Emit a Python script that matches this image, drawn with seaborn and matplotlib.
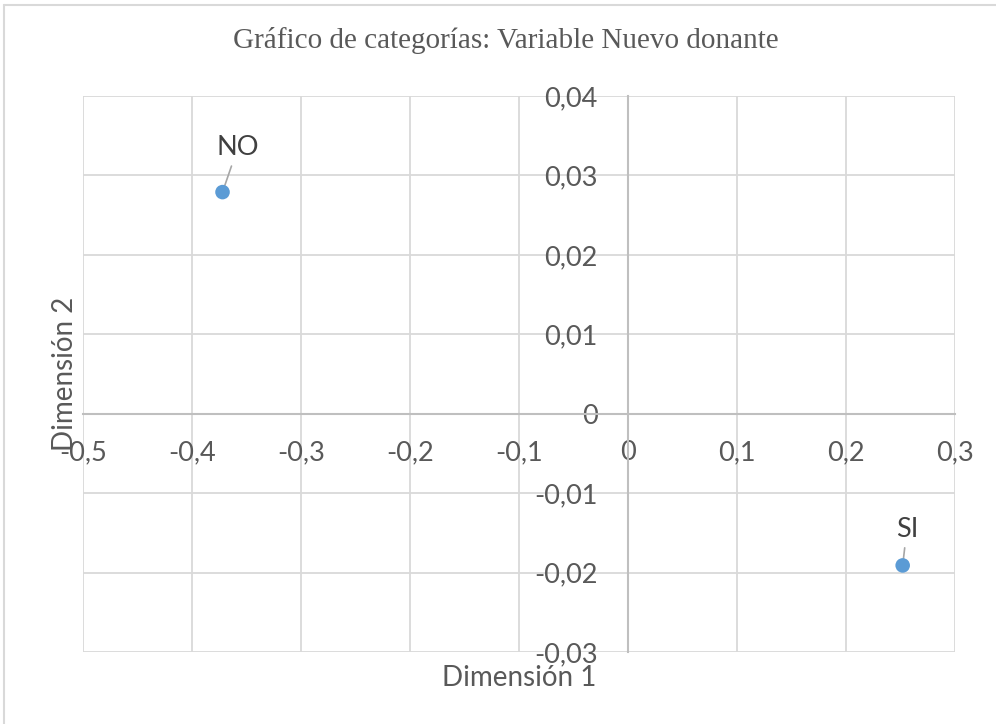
import matplotlib
matplotlib.use("Agg")
import matplotlib.pyplot as plt
from matplotlib.ticker import FixedLocator, FuncFormatter
from matplotlib.lines import Line2D
import seaborn as sns
import pandas as pd

# data
categorias = ["NO", "SI"]
dim1 = [-0.372, 0.252]
dim2 = [0.0279, -0.0191]
x_ticks = [-0.5, -0.4, -0.3, -0.2, -0.1, 0.0, 0.1, 0.2, 0.3]
y_ticks = [-0.03, -0.02, -0.01, 0.0, 0.01, 0.02, 0.03, 0.04]
# label offsets (points) from each point
label_off = [(11, 32), (3, 26)]

sns.set_theme(style="white")
plt.rcParams['font.family'] = ['Lato', 'DejaVu Sans']

txt = '#595959'
grid_c = '#D9D9D9'
axis_c = '#BFBFBF'

df = pd.DataFrame({'cat': categorias, 'd1': dim1, 'd2': dim2})

fig = plt.figure(figsize=(9.96, 7.24), dpi=100)
ax = fig.add_axes([83/996, 1 - 652/724, 872/996, 556/724])

ax.set_xlim(x_ticks[0], x_ticks[-1])
ax.set_ylim(y_ticks[0], y_ticks[-1])
ax.xaxis.set_major_locator(FixedLocator(x_ticks))
ax.yaxis.set_major_locator(FixedLocator(y_ticks))
fmt = FuncFormatter(lambda v, p: f"{round(v, 2):g}".replace('.', ','))
ax.xaxis.set_major_formatter(fmt)
ax.yaxis.set_major_formatter(fmt)

ax.grid(True, color=grid_c, lw=1.3)
ax.set_axisbelow(True)

for s in ['top', 'right']:
    ax.spines[s].set_visible(False)
ax.spines['left'].set_position('zero')
ax.spines['bottom'].set_position('zero')
for s in ['left', 'bottom']:
    ax.spines[s].set_color(axis_c)
    ax.spines[s].set_linewidth(1.5)

ax.tick_params(axis='x', length=0, pad=19, labelsize=19.5, labelcolor=txt)
ax.tick_params(axis='y', length=0, pad=22, labelsize=19.5, labelcolor=txt)

sns.scatterplot(data=df, x='d1', y='d2', ax=ax, s=110, color='#5B9BD5',
                edgecolor='none', zorder=5, clip_on=False, legend=False)

for i, c in enumerate(categorias):
    ax.annotate(c, (dim1[i], dim2[i]), xytext=label_off[i],
                textcoords='offset points', ha='center', va='center',
                fontsize=19.5, color='#404040',
                arrowprops=dict(arrowstyle='-', color='#A6A6A6', lw=1.2,
                                shrinkA=2, shrinkB=3))

ax.set_xlabel('Dimensión 1', fontsize=20, color=txt)
ax.set_ylabel('Dimensión 2', fontsize=20, color=txt)
ax.xaxis.label.set_va('center')
ax.yaxis.label.set_va('center')
ax.xaxis.set_label_coords(0.5, -0.047)
ax.yaxis.set_label_coords(-0.021, 0.5)

fig.text(506/996, 1 - 40/724, 'Gráfico de categorías: Variable Nuevo donante',
         ha='center', va='center', fontsize=21, color=txt,
         family='Liberation Serif')

# outer chart border (left and top visible in the reference)
fig.add_artist(Line2D([4/996, 4/996], [0, 1 - 5/724], color=grid_c, lw=1.5,
                      transform=fig.transFigure))
fig.add_artist(Line2D([4/996, 1], [1 - 5/724, 1 - 5/724], color=grid_c, lw=1.5,
                      transform=fig.transFigure))

fig.savefig('out.png', dpi=100)
